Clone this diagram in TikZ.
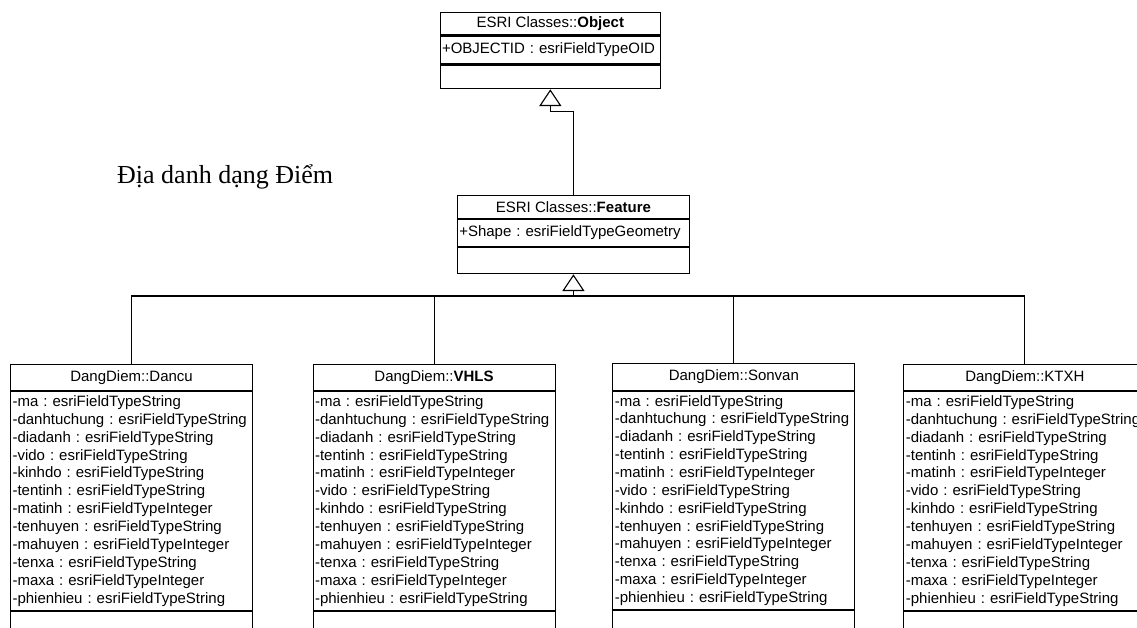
\documentclass[tikz,border=0pt]{standalone}
\usepackage{fontspec}
\setmainfont{Liberation Sans}
\newfontfamily\titlefont{Liberation Serif}
\usetikzlibrary{arrows.meta}
\frenchspacing
\newcommand\dancuattrs{-ma : esriFieldTypeString\\-danhtuchung : esriFieldTypeString\\-diadanh : esriFieldTypeString\\-vido : esriFieldTypeString\\-kinhdo : esriFieldTypeString\\-tentinh : esriFieldTypeString\\-matinh : esriFieldTypeInteger\\-tenhuyen : esriFieldTypeString\\-mahuyen : esriFieldTypeInteger\\-tenxa : esriFieldTypeString\\-maxa : esriFieldTypeInteger\\-phienhieu : esriFieldTypeString}
\newcommand\otherattrs{-ma : esriFieldTypeString\\-danhtuchung : esriFieldTypeString\\-diadanh : esriFieldTypeString\\-tentinh : esriFieldTypeString\\-matinh : esriFieldTypeInteger\\-vido : esriFieldTypeString\\-kinhdo : esriFieldTypeString\\-tenhuyen : esriFieldTypeString\\-mahuyen : esriFieldTypeInteger\\-tenxa : esriFieldTypeString\\-maxa : esriFieldTypeInteger\\-phienhieu : esriFieldTypeString}
\begin{document}
\begin{tikzpicture}[x=1pt,y=-1pt,
  every node/.style={font=\frenchspacing\fontsize{15}{17.87}\selectfont, inner sep=0pt},
  cell/.style={draw, line width=1.1pt, anchor=north west},
  hdr/.style={cell, minimum width=242pt, minimum height=26.5pt},
  att/.style={cell, text width=238pt, inner xsep=2pt, inner ysep=0pt, align=left, minimum height=218.5pt},
  ops/.style={cell, minimum width=242pt, minimum height=40pt},
  link/.style={line width=1.1pt},
  gen/.style={line width=1.1pt, -{Triangle[open, length=16.7pt, width=22pt, line width=1.1pt]}}
]
\useasboundingbox (0,0) rectangle (1137,627);
\clip (0,0) rectangle (1137,627);
\fill[white] (0,0) rectangle (1137,627);

% Object
\node[cell, minimum width=220.5pt, minimum height=22.3pt] (objH) at (439.5,12) {ESRI Classes::\textbf{Object}};
\node[cell, text width=216.5pt, inner xsep=2pt, align=left, minimum height=28pt] (objA) at (objH.south west) {+OBJECTID : esriFieldTypeOID};
\node[cell, minimum width=220.5pt, minimum height=23.7pt] (objO) at (objA.south west) {};

% Feature
\node[cell, minimum width=232.3pt, minimum height=22.7pt] (featH) at (456.7,195) {ESRI Classes::\textbf{Feature}};
\node[cell, text width=228.3pt, inner xsep=2pt, align=left, minimum height=27.3pt] (featA) at (featH.south west) {+Shape : esriFieldTypeGeometry};
\node[cell, minimum width=232.3pt, minimum height=26pt] (featO) at (featA.south west) {};

% title
\node[font=\titlefont\fontsize{26}{30}\selectfont, anchor=base west] (title) at (117,183) {Địa danh dạng Điểm};

% children
\node[hdr] (dH) at (10,363.5) {DangDiem::Dancu};
\node[att] (dA) at (dH.south west) {\dancuattrs};
\node[ops] (dO) at (dA.south west) {};

\node[hdr] (vH) at (312.5,363.5) {DangDiem::\textbf{VHLS}};
\node[att] (vA) at (vH.south west) {\otherattrs};
\node[ops] (vO) at (vA.south west) {};

\node[hdr] (sH) at (612.3,363) {DangDiem::Sonvan};
\node[att] (sA) at (sH.south west) {\otherattrs};
\node[ops] (sO) at (sA.south west) {};

\node[hdr] (kH) at (903.3,363.5) {DangDiem::KTXH};
\node[att] (kA) at (kH.south west) {\otherattrs};
\node[ops] (kO) at (kA.south west) {};

% connectors
\coordinate (bend) at (0,111.7);
\coordinate (bar) at (0,296);
\draw[gen] (featH.north) -- (featH.north |- bend) -| (objO.south);
\draw[link] (dH.north) |- (kH.north |- bar) -- (kH.north);
\draw[link] (vH.north) -- (vH.north |- bar);
\draw[link] (sH.north) -- (sH.north |- bar);
\draw[gen] (featO.south |- bar) -- (featO.south);
\end{tikzpicture}
\end{document}
